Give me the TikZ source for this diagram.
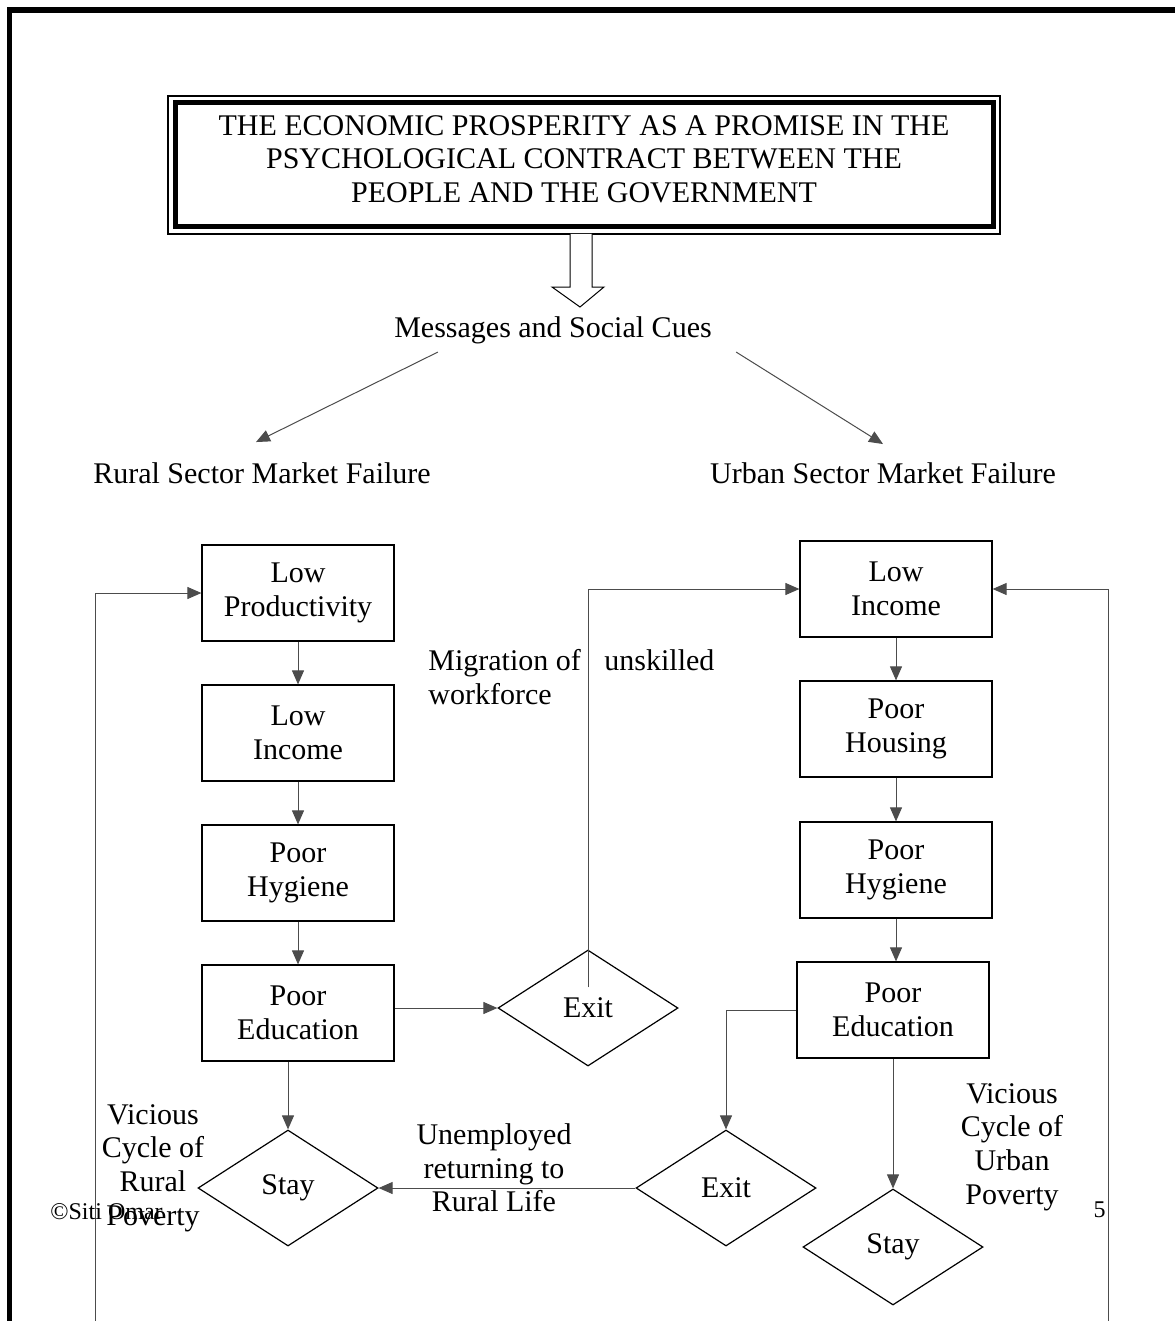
\documentclass[tikz,border=0pt]{standalone}
\usepackage{fontspec}
\setmainfont{Liberation Serif}
\usetikzlibrary{shapes.geometric}
\usetikzlibrary{arrows.meta}

\tikzset{
  cell/.style={draw,line width=0.6pt,minimum width=96pt,minimum height=48pt,align=center,inner sep=2pt},
  choice/.style={draw,line width=0.6pt,diamond,minimum width=90pt,minimum height=58pt,inner sep=0pt},
  plain/.style={align=center,inner sep=0pt},
  link/.style={draw=black!70,line width=0.5pt,-{Triangle[length=7pt,width=6pt]}}
}

\begin{document}
\begin{tikzpicture}[x=0.5pt,y=-0.5pt,font=\fontsize{15}{16.8}\selectfont]
\useasboundingbox (0,0) rectangle (1175,1321);
\draw[line width=2.8pt] (9.5,1321) -- (9.5,10) -- (1175,10);

% promise
\draw[line width=0.6pt] (168,96) rectangle (1000,234);
\draw[line width=2.5pt] (175,103) rectangle (993,227);
\node[plain] (title) at (584,159) {THE ECONOMIC PROSPERITY AS A PROMISE IN THE\\PSYCHOLOGICAL CONTRACT BETWEEN THE\\PEOPLE AND THE GOVERNMENT};
\draw[line width=0.5pt,fill=white] (570,234) -- (570,287) -- (552,287) -- (580,307) -- (604,287) -- (592,287) -- (592,234);

\node[plain] (cues) at (553,330) {Messages and Social Cues};
\node[plain] (rural) at (262,473) {Rural Sector Market Failure};
\node[plain] (urban) at (883,473) {Urban Sector Market Failure};
\draw[link] ([xshift=22pt,yshift=-4pt]cues.south west) -- ([xshift=-3pt,yshift=10pt]rural.north);
\draw[link] ([xshift=12pt,yshift=-4pt]cues.south east) -- ([yshift=9pt]urban.north);

% rural
\node[cell] (lprod) at (298,593) {Low\\Productivity};
\node[cell] (linc) at (298,733) {Low\\Income};
\node[cell] (lhyg) at (298,873) {Poor\\Hygiene};
\node[cell] (ledu) at (298,1013) {Poor\\Education};
\node[choice] (lexit) at (588,1008) {Exit};
\node[choice] (lstay) at (288,1188) {Stay};
\draw[link] (lprod) -- (linc);
\draw[link] (linc) -- (lhyg);
\draw[link] (lhyg) -- (ledu);
\draw[link] (ledu.east |- lexit) -- (lexit.west);
\draw[link] (ledu.south -| lstay.north) -- (lstay.north);

% urban
\node[cell] (uinc) at (896,589) {Low\\Income};
\node[cell] (uhouse) at (896,729) {Poor\\Housing};
\node[cell] (uhyg) at (896,870) {Poor\\Hygiene};
\node[cell] (uedu) at (893,1010) {Poor\\Education};
\node[choice] (uexit) at (726,1188) {Exit};
\node[choice] (ustay) at (893,1247) {Stay};
\draw[link] (uinc) -- (uhouse);
\draw[link] (uhouse) -- (uhyg);
\draw[link] (uhyg.south) -- (uhyg.south |- uedu.north);
\draw[link] (uedu.west) -| (uexit.north);
\draw[link] (uedu) -- (ustay);
\draw[link] (uexit.west) -- (lstay.east);

% migration and cycles
\draw[link] ([yshift=-19pt]lexit.north) |- (uinc.west);
\coordinate (lloop) at (95,1321);
\coordinate (uloop) at (1108,1321);
\draw[link] (lloop) |- (lprod.west);
\draw[link] (uloop) |- (uinc.east);

\node[plain,anchor=west,align=left] (migr) at (428,677) {Migration of\\workforce};
\node[plain,anchor=west] (unsk) at (604,660) {unskilled};
\node[plain] (back) at (494,1168) {Unemployed\\returning to\\Rural Life};
\node[plain] (rcycle) at (153,1168) {Vicious\\Cycle of\\Rural\\Poverty};
\node[plain] (ucycle) at (1012,1147) {Vicious\\Cycle of\\Urban\\Poverty};
\node[plain,anchor=west,font=\fontsize{12}{14}\selectfont] (copy) at (50,1212) {©Siti Omar};
\node[plain,anchor=east,font=\fontsize{12}{14}\selectfont] (page) at (1106,1210) {5};
\end{tikzpicture}
\end{document}
